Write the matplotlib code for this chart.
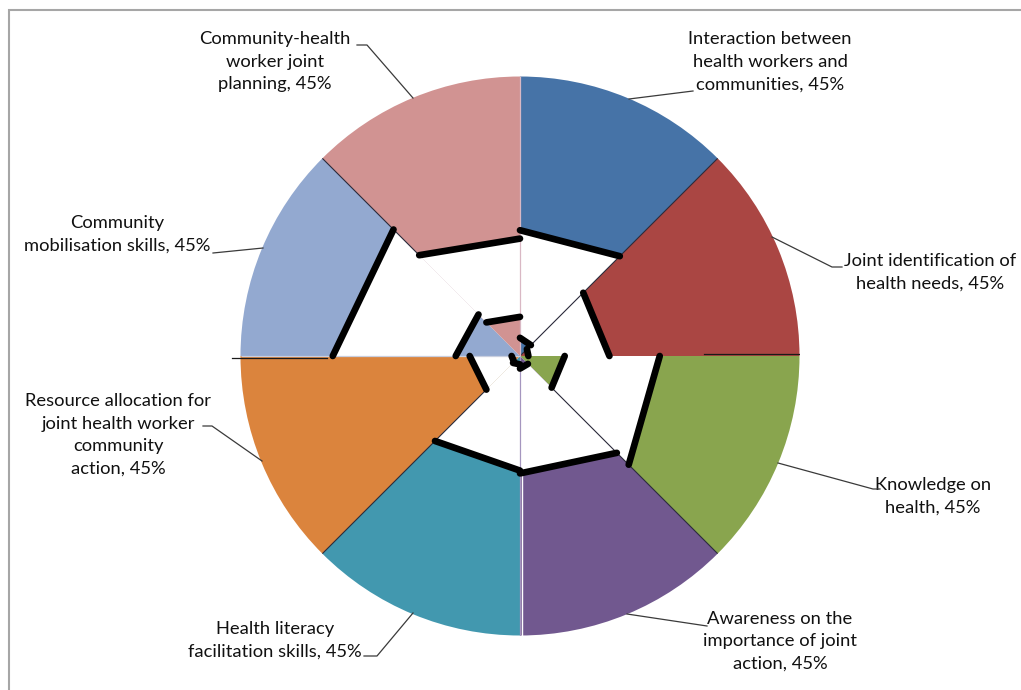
import numpy as np
import matplotlib
matplotlib.use("Agg")
import matplotlib.pyplot as plt
from matplotlib.patches import Rectangle

# ---------------- data ----------------
categories = [
    "Interaction between\nhealth workers and\ncommunities",
    "Joint identification of\nhealth needs",
    "Knowledge on\nhealth",
    "Awareness on the\nimportance of joint\naction",
    "Health literacy\nfacilitation skills",
    "Resource allocation for\njoint health worker\ncommunity\naction",
    "Community\nmobilisation skills",
    "Community-health\nworker joint\nplanning",
]
percent = [45, 45, 45, 45, 45, 45, 45, 45]
colors = ["#4673A7", "#AA4643", "#89A54E", "#71588F",
          "#4298AF", "#DB843D", "#93A9D0", "#D19392"]
# inner edge of outer coloured band (at start edge, at end edge of slice, clockwise)
ring_start = [0.45, 0.32, 0.50, 0.49, 0.41, 0.17, 0.67, 0.51]
ring_end   = [0.505, 0.32, 0.55, 0.42, 0.43, 0.18, 0.64, 0.42]
# outer edge of small central core
core_start = [0.065, 0.035, 0.16, 0.04, 0.03, 0.03, 0.23, 0.17]
core_end   = [0.055, 0.03, 0.16, 0.045, 0.035, 0.03, 0.21, 0.14]

# label layout (pixel centres in the 1021x690 image) and leader lines (pixels)
label_px = [(770, 62), (930, 272), (933, 496), (780, 641),
            (275, 640), (118, 435), (117, 234), (275, 62)]
leader_px = [
    [(629, 99), (693, 91)],
    [(772, 237), (832, 267), (842, 267)],
    [(778, 463), (873, 489), (880, 489)],
    [(627, 614), (707, 626)],
    [(413, 613), (377, 656), (364, 656)],
    [(262, 461), (212, 426), (203, 426)],
    [(263, 248), (223, 252), (213, 253)],
    [(413, 98), (367, 45), (357, 45)],
]

# ---------------- figure ----------------
W, H = 1021, 690
CX, CY, R = 520, 356, 279.5
fig = plt.figure(figsize=(W / 100, H / 100), dpi=100)
fig.patch.set_facecolor("white")
ax = fig.add_axes([(CX - R) / W, (H - CY - R) / H, 2 * R / W, 2 * R / H])

def px2d(p):
    return ((p[0] - CX) / R, (CY - p[1]) / R)

def pol(a, r):
    t = np.deg2rad(a)
    return r * np.cos(t), r * np.sin(t)

ax.pie(percent, colors=colors, startangle=90, counterclock=False, radius=1,
       wedgeprops=dict(linewidth=0))

n = len(percent)
step = 360.0 / n
# white overlay between core and ring
for i in range(n):
    a1 = 90 - step * i
    a2 = 90 - step * (i + 1)
    pts = [pol(a1, core_start[i]), pol(a1, ring_start[i]),
           pol(a2, ring_end[i]), pol(a2, core_end[i])]
    xs, ys = zip(*pts)
    ax.fill(xs, ys, color="white", lw=0, zorder=2)

# thin boundary lines
def seg(a, r0, r1, **kw):
    x0, y0 = pol(a, r0)
    x1, y1 = pol(a, r1)
    ax.plot([x0, x1], [y0, y1], zorder=3, solid_capstyle="butt", **kw)

seg(45, 0.0, 1.0, color="#2a2a3a", lw=0.8)
seg(-45, 0.16, 1.0, color="#2a2a3a", lw=0.8)
seg(-135, 0.17, 1.0, color="#2a2a3a", lw=0.8)
seg(135, 0.51, 1.0, color="#2a2a3a", lw=0.8)
seg(90, 0.0, 1.0, color="#d9b8c4", lw=0.9)
seg(-90, 0.0, 1.0, color="#a596bf", lw=0.9)
ax.plot([0.006, 0.006], [-0.05, -1.0], color="white", lw=1.0, zorder=3)
seg(180, 0.0, 1.0, color="#c9cfdf", lw=0.9)
ax.plot([-1.03, -0.69], [-0.006, -0.006], color="#1a1a1a", lw=0.9, zorder=3, clip_on=False)
ax.plot([0.66, 1.0], [0.008, 0.008], color="#1a1a1a", lw=0.9, zorder=3)

# thick black lines
for i in range(n):
    a1 = 90 - step * i
    a2 = 90 - step * (i + 1)
    for r1, r2 in ((ring_start[i], ring_end[i]), (core_start[i], core_end[i])):
        x0, y0 = pol(a1, r1)
        x1, y1 = pol(a2, r2)
        ax.plot([x0, x1], [y0, y1], color="black", lw=4.8,
                solid_capstyle="round", zorder=4)

# labels and leader lines
for i in range(n):
    lx, ly = px2d(label_px[i])
    ax.text(lx, ly, f"{categories[i]}, {percent[i]}%", ha="center", va="center",
            fontsize=13.2, family=["Lato", "DejaVu Sans"], color="#111111",
            linespacing=1.5, clip_on=False, zorder=5)
    pts = [px2d(p) for p in leader_px[i]]
    xs, ys = zip(*pts)
    ax.plot(xs, ys, color="#3a3a3a", lw=0.9, clip_on=False, zorder=5)

ax.set_xlim(-1, 1)
ax.set_ylim(-1, 1)
ax.set_aspect("auto")
ax.axis("off")

# chart frame (only top and left edges visible)
fig.add_artist(Rectangle((9 / W, -0.1), 1.2, (H - 10) / H + 0.1,
                         transform=fig.transFigure, fill=False,
                         edgecolor="#a6a6a6", lw=1.5))

fig.savefig("out.png", dpi=100, facecolor="white")
